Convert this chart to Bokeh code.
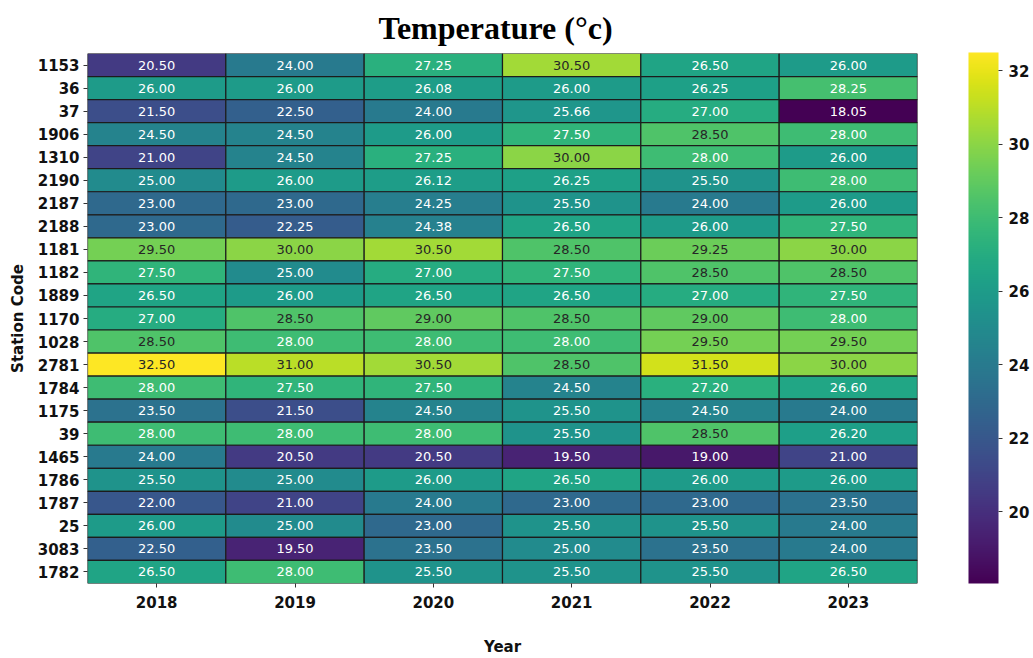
from bokeh.plotting import figure
from bokeh.models import (ColumnDataSource, FactorRange, LinearColorMapper, ColorBar,
                          FixedTicker, Title)
from bokeh.palettes import Viridis256
from bokeh.transform import transform
from bokeh.core.properties import value
from bokeh.embed import file_html
from bokeh.resources import INLINE

stations = ["1153", "36", "37", "1906", "1310", "2190", "2187", "2188", "1181", "1182",
            "1889", "1170", "1028", "2781", "1784", "1175", "39", "1465", "1786", "1787",
            "25", "3083", "1782"]
years = ["2018", "2019", "2020", "2021", "2022", "2023"]

t2018 = [20.50, 26.00, 21.50, 24.50, 21.00, 25.00, 23.00, 23.00, 29.50, 27.50, 26.50, 27.00,
         28.50, 32.50, 28.00, 23.50, 28.00, 24.00, 25.50, 22.00, 26.00, 22.50, 26.50]
t2019 = [24.00, 26.00, 22.50, 24.50, 24.50, 26.00, 23.00, 22.25, 30.00, 25.00, 26.00, 28.50,
         28.00, 31.00, 27.50, 21.50, 28.00, 20.50, 25.00, 21.00, 25.00, 19.50, 28.00]
t2020 = [27.25, 26.08, 24.00, 26.00, 27.25, 26.12, 24.25, 24.38, 30.50, 27.00, 26.50, 29.00,
         28.00, 30.50, 27.50, 24.50, 28.00, 20.50, 26.00, 24.00, 23.00, 23.50, 25.50]
t2021 = [30.50, 26.00, 25.66, 27.50, 30.00, 26.25, 25.50, 26.50, 28.50, 27.50, 26.50, 28.50,
         28.00, 28.50, 24.50, 25.50, 25.50, 19.50, 26.50, 23.00, 25.50, 25.00, 25.50]
t2022 = [26.50, 26.25, 27.00, 28.50, 28.00, 25.50, 24.00, 26.00, 29.25, 28.50, 27.00, 29.00,
         29.50, 31.50, 27.20, 24.50, 28.50, 19.00, 26.00, 23.00, 25.50, 23.50, 25.50]
t2023 = [26.00, 28.25, 18.05, 28.00, 26.00, 28.00, 26.00, 27.50, 30.00, 28.50, 27.50, 28.00,
         29.50, 30.00, 26.60, 24.00, 26.20, 21.00, 26.00, 23.50, 24.00, 24.00, 26.50]

cbar_ticks = [20, 22, 24, 26, 28, 30, 32]

series = {"2018": t2018, "2019": t2019, "2020": t2020,
          "2021": t2021, "2022": t2022, "2023": t2023}

xs, ys, vals, labels, tcolors = [], [], [], [], []
for yr in years:
    for st, v in zip(stations, series[yr]):
        xs.append(yr)
        ys.append(st)
        vals.append(v)
        labels.append(f"{v:.2f}")
        tcolors.append("#262626" if v >= 28.5 else "#ffffff")

src = ColumnDataSource(dict(x=xs, y=ys, v=vals, lab=labels, tc=tcolors))

mapper = LinearColorMapper(palette=Viridis256, low=min(vals), high=max(vals))

W, H = 1033, 658
LEFT, RIGHT, TOP_FRAME, BOTTOM = 87, 116, 53, 74
frame_w = W - LEFT - RIGHT
frame_h = H - TOP_FRAME - BOTTOM

p = figure(width=W, height=H, output_backend="svg", toolbar_location=None,
           x_range=FactorRange(*years), y_range=FactorRange(*list(reversed(stations))),
           min_border_left=LEFT, min_border_right=RIGHT, min_border_bottom=BOTTOM,
           min_border_top=0)

p.rect(x="x", y="y", width=1, height=1, source=src,
       fill_color=transform("v", mapper), line_color="#1c1c1c", line_width=1.2)
p.text(x="x", y="y", text="lab", source=src, text_color="tc",
       text_align="center", text_baseline="middle",
       text_font=value("DejaVu Sans"), text_font_size="13px")

p.title = Title(text="Temperature (°c)", align="left", text_font="Liberation Serif",
                text_font_size="32px", text_font_style="bold", text_color="#000000",
                offset=291, standoff=15)

p.grid.visible = False
p.outline_line_color = None
for ax in (p.xaxis, p.yaxis):
    ax.axis_line_color = None
    ax.major_tick_in = 0
    ax.major_tick_out = 4
    ax.major_tick_line_color = "#333333"
    ax.minor_tick_line_color = None
    ax.major_label_text_font = "DejaVu Sans"
    ax.major_label_text_font_style = "bold"
    ax.major_label_text_font_size = "15px"
    ax.major_label_text_color = "#111111"
    ax.axis_label_text_font = "DejaVu Sans"
    ax.axis_label_text_font_style = "bold"
    ax.axis_label_text_font_size = "15px"
    ax.axis_label_text_color = "#111111"
    ax.major_label_standoff = 4

p.xaxis.major_label_standoff = 8
p.xaxis.axis_label = "Year"
p.yaxis.axis_label = "Station Code"
p.xaxis.axis_label_standoff = 27
p.yaxis.axis_label_standoff = 8

cb = ColorBar(color_mapper=mapper, ticker=FixedTicker(ticks=cbar_ticks), width=30,
              height=frame_h, location=(frame_w + 51, 0),
              margin=0, padding=0, major_tick_in=0, major_tick_out=4,
              major_tick_line_color="#333333", minor_tick_line_color=None,
              bar_line_color=None, border_line_color=None, background_fill_color=None,
              major_label_text_font="DejaVu Sans", major_label_text_font_style="bold",
              major_label_text_font_size="15px", major_label_text_color="#111111",
              label_standoff=6)
p.add_layout(cb, "center")

open("out.html", "w").write(file_html(p, INLINE))
